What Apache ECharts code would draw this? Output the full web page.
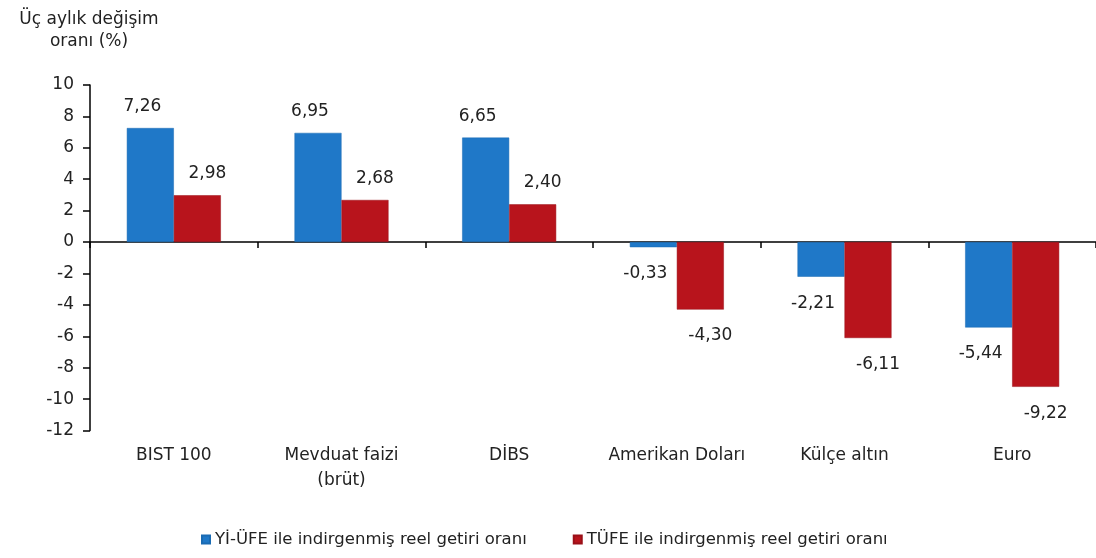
<!DOCTYPE html>
<html>
<head>
<meta charset="utf-8">
<script src="https://cdn.jsdelivr.net/npm/echarts@6/dist/echarts.min.js"></script>
<style>
html,body{margin:0;padding:0;background:#fff;}
#c{width:1096px;height:558px;}
</style>
</head>
<body>
<div id="c"></div>
<script>
const categories = ['BIST 100', 'Mevduat faizi\n(brüt)', 'DİBS', 'Amerikan Doları', 'Külçe altın', 'Euro'];
const yiufeValues = [7.26, 6.95, 6.65, -0.33, -2.21, -5.44];
const tufeValues = [2.98, 2.68, 2.40, -4.30, -6.11, -9.22];
const seriesNames = ['Yİ-ÜFE ile indirgenmiş reel getiri oranı', 'TÜFE ile indirgenmiş reel getiri oranı'];
const yTicks = [-12, -10, -8, -6, -4, -2, 0, 2, 4, 6, 8, 10];
const titleText = 'Üç aylık değişim\noranı (%)';

const FONT = 'DejaVu Sans';
const FS = 17;
const fmt = v => v.toFixed(2).replace('.', ',');

function items(vals) {
  return vals.map(v => ({
    value: v,
    label: { position: v < 0 ? 'bottom' : 'top', distance: v < 0 ? 18 : 13 }
  }));
}

const chart = echarts.init(document.getElementById('c'), null, { renderer: 'canvas' });
chart.setOption({
  backgroundColor: '#ffffff',
  animation: false,
  title: {
    text: titleText,
    left: 84,
    top: 4,
    textAlign: 'center',
    textStyle: { fontFamily: FONT, fontSize: FS, fontWeight: 'normal', color: '#222', lineHeight: 22, align: 'center' }
  },
  legend: {
    bottom: 5,
    left: 196,
    icon: 'rect',
    itemWidth: 8,
    itemHeight: 8,
    itemGap: 46,
    textStyle: { fontFamily: FONT, fontSize: 16.5, color: '#222' },
    data: seriesNames
  },
  grid: { left: 90, right: -5, top: 85, height: 345.5, containLabel: false },
  xAxis: [
    {
      type: 'category',
      data: categories,
      position: 'bottom',
      axisLine: { show: false, onZero: false },
      axisTick: { show: false },
      axisLabel: { fontFamily: FONT, fontSize: FS, color: '#222', margin: 13, lineHeight: 25, interval: 0 }
    },
    {
      type: 'category',
      data: categories,
      position: 'bottom',
      axisLine: { show: true, onZero: true, lineStyle: { color: '#000', width: 1.5 } },
      axisTick: { show: true, inside: false, length: 6, lineStyle: { color: '#000', width: 1.5 } },
      axisLabel: { show: false }
    }
  ],
  yAxis: {
    type: 'value',
    min: yTicks[0],
    max: yTicks[yTicks.length - 1],
    interval: 2,
    splitLine: { show: false },
    axisLine: { show: true, lineStyle: { color: '#000', width: 1.5 } },
    axisTick: { show: true, length: 7, lineStyle: { color: '#000', width: 1.5 } },
    axisLabel: { fontFamily: FONT, fontSize: FS, color: '#222', margin: 16 }
  },
  series: [
    {
      name: seriesNames[0],
      type: 'bar',
      xAxisIndex: 0,
      data: items(yiufeValues),
      barWidth: 47,
      barGap: '0%',
      itemStyle: { color: '#1f78c8', borderColor: '#1a6bb3', borderWidth: 0.5 },
      label: {
        show: true,
        offset: [-8, 0],
        fontFamily: FONT, fontSize: FS, color: '#222',
        formatter: p => fmt(p.value)
      }
    },
    {
      name: seriesNames[1],
      type: 'bar',
      xAxisIndex: 0,
      data: items(tufeValues),
      barWidth: 47,
      barGap: '0%',
      itemStyle: { color: '#b8141c', borderColor: '#9a1018', borderWidth: 0.5 },
      label: {
        show: true,
        offset: [10, 0],
        fontFamily: FONT, fontSize: FS, color: '#222',
        formatter: p => fmt(p.value)
      }
    }
  ]
});
</script>
</body>
</html>
